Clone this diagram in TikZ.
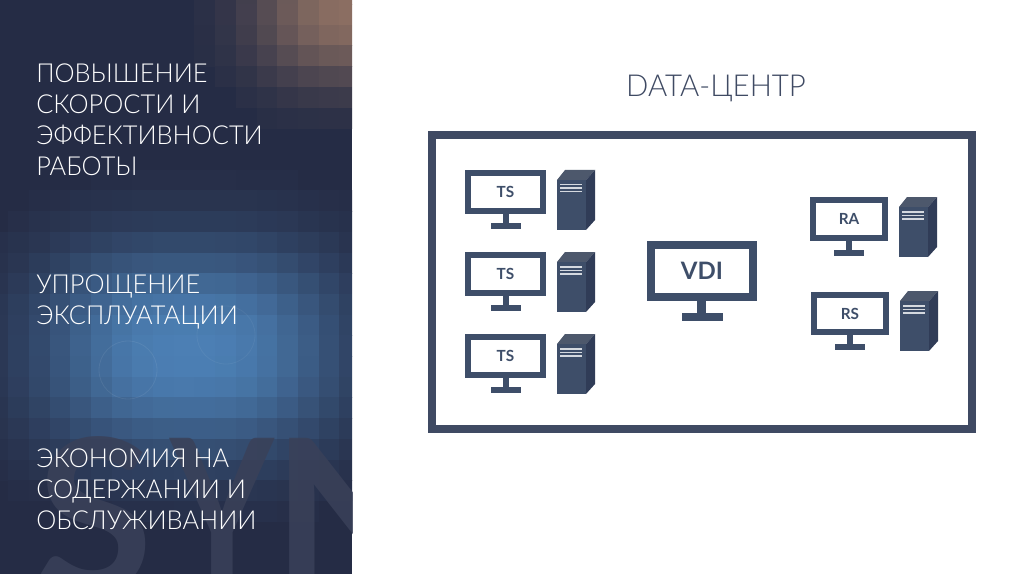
\documentclass[tikz,border=0pt]{standalone}
\usepackage{fontspec}
\setmainfont{Lato}[UprightFont=* Light,BoldFont=* Bold,FakeStretch=0.97]
\newfontfamily\labfont{Lato}[UprightFont=* Bold]
\newfontfamily\titlefont{Lato}[UprightFont=* Light]
\definecolor{basec}{HTML}{252C45}
\definecolor{bluec}{HTML}{4C80B5}
\definecolor{brownc}{HTML}{8C6F62}
\definecolor{wm}{HTML}{3A4159}
\definecolor{ink}{HTML}{3E4E69}
\definecolor{inkside}{HTML}{303C57}
\definecolor{inktop}{HTML}{4D586C}
\definecolor{titlec}{HTML}{3F4A63}
\definecolor{linec}{HTML}{D5D9DF}
\tikzset{
  x=0.75pt,y=-0.75pt,
  sidetext/.style={anchor=north west,align=left,inner sep=0pt,text=white,font=\fontsize{19.6pt}{23.25pt}\selectfont},
  screen/.style={draw=ink,fill=white,line width=4.5pt,inner sep=0pt,text=ink},
  smalllabel/.style={font=\labfont\fontsize{11.5pt}{12pt}\selectfont},
  biglabel/.style={font=\labfont\fontsize{18pt}{20pt}\selectfont},
  solidink/.style={fill=ink,draw=none},
  wmletter/.style={anchor=base west,inner sep=0pt,text=wm,opacity=.85,font=\labfont\fontsize{160pt}{160pt}\selectfont},
}
% monitor: name, label, x1,y1,x2,y2, style
\newcommand{\mymonitor}[7]{%
  \path[solidink] ({(#3+#5)/2-3},#6) rectangle ({(#3+#5)/2+3},#6+10);
  \path[solidink] ({(#3+#5)/2-15},#6+9) rectangle ({(#3+#5)/2+15},#6+15);
  \node[screen,#7,minimum width=#5*0.75pt-#3*0.75pt-4.5pt,minimum height=#6*0.75pt-#4*0.75pt-4.5pt] (#1) at ({(#3+#5)/2},{(#4+#6)/2}) {#2};
}
% tower: front-left x, top of back edge y
\newcommand{\mytower}[2]{%
  \path[fill=inktop] (#1,#2+10) -- (#1+8,#2) -- (#1+38,#2) -- (#1+29,#2+10) -- cycle;
  \path[fill=inkside] (#1+29,#2+10) -- (#1+38,#2) -- (#1+38,#2+50) -- (#1+29,#2+60) -- cycle;
  \path[fill=ink] (#1,#2+10) rectangle (#1+29,#2+60);
  \path[fill=linec] (#1+3,#2+14) rectangle (#1+25,#2+15.5);
  \path[fill=linec] (#1+3,#2+17.5) rectangle (#1+25,#2+19);
  \path[fill=linec] (#1+3,#2+21) rectangle (#1+25,#2+22.5);
}
\begin{document}
\begin{tikzpicture}
\useasboundingbox (0,0) rectangle (1024,574);
\fill[white] (0,0) rectangle (1024,574);
\begin{scope}
\clip (0,0) rectangle (352,574);
\fill[basec] (0,0) rectangle (352,574);
\foreach \i in {0,...,17}{
  \foreach \j in {0,...,28}{
    \pgfmathsetmacro{\cx}{-2+20.7*\i}
    \pgfmathsetmacro{\cy}{-6+20.7*\j}
    \pgfmathsetmacro{\tb}{int(100*exp(-pow(abs(\cx-190)/150,2.6)-pow(abs(\cy-350)/105,2.4)))}
    \pgfmathsetmacro{\tr}{int(100*exp(-pow(abs(\cx-350)/95,2.4)-pow(abs(\cy-5)/78,2.4)))}
    \ifnum\tb>2
      \fill[bluec!\tb!basec] (\cx-10.6,\cy-10.6) rectangle (\cx+10.6,\cy+10.6);
    \fi
    \ifnum\tr>3
      \fill[brownc!\tr!basec] (\cx-10.6,\cy-10.6) rectangle (\cx+10.6,\cy+10.6);
    \fi
  }
}
\draw[white,opacity=.07,line width=.6pt] (128,370) circle (29);
\draw[white,opacity=.05,line width=.6pt] (226,335) circle (29);
\node[wmletter] (wmS) at (36,592) {S};
\node[wmletter,xscale=.75] (wmY) at (170,592) {Y};
\node[wmletter] (wmN) at (272,592) {N};
\end{scope}
\node[sidetext] (t1) at (36,64) {ПОВЫШЕНИЕ\\СКОРОСТИ И\\ЭФФЕКТИВНОСТИ\\РАБОТЫ};
\node[sidetext] (t2) at (36,275) {УПРОЩЕНИЕ\\ЭКСПЛУАТАЦИИ};
\node[sidetext] (t3) at (36,449) {ЭКОНОМИЯ НА\\СОДЕРЖАНИИ И\\ОБСЛУЖИВАНИИ};
\node[text=titlec,inner sep=0pt,font=\fontsize{22.7pt}{26pt}\selectfont] (title) at (716,88) {DATA-ЦЕНТР};
\node[draw=titlec,line width=6pt,minimum width=540*0.75pt,minimum height=293*0.75pt,inner sep=0pt] (frame) at (702,282) {};
\mymonitor{ts1}{TS}{465}{170}{546}{214}{smalllabel}
\mymonitor{ts2}{TS}{465}{252}{546}{296}{smalllabel}
\mymonitor{ts3}{TS}{465}{334}{546}{378}{smalllabel}
\mytower{557}{170}
\mytower{557}{252}
\mytower{557}{334}
\mymonitor{ra}{RA}{810}{197}{888}{241}{smalllabel}
\mymonitor{rs}{RS}{811}{292}{889}{335}{smalllabel}
\mytower{899}{197}
\mytower{900}{291}
\path[solidink] (697,301) rectangle (706,315);
\path[solidink] (682,313) rectangle (723,321);
\node[screen,biglabel,line width=6pt,minimum width=102*0.75pt,minimum height=52*0.75pt] (vdi) at (702,271) {VDI};
\end{tikzpicture}
\end{document}
